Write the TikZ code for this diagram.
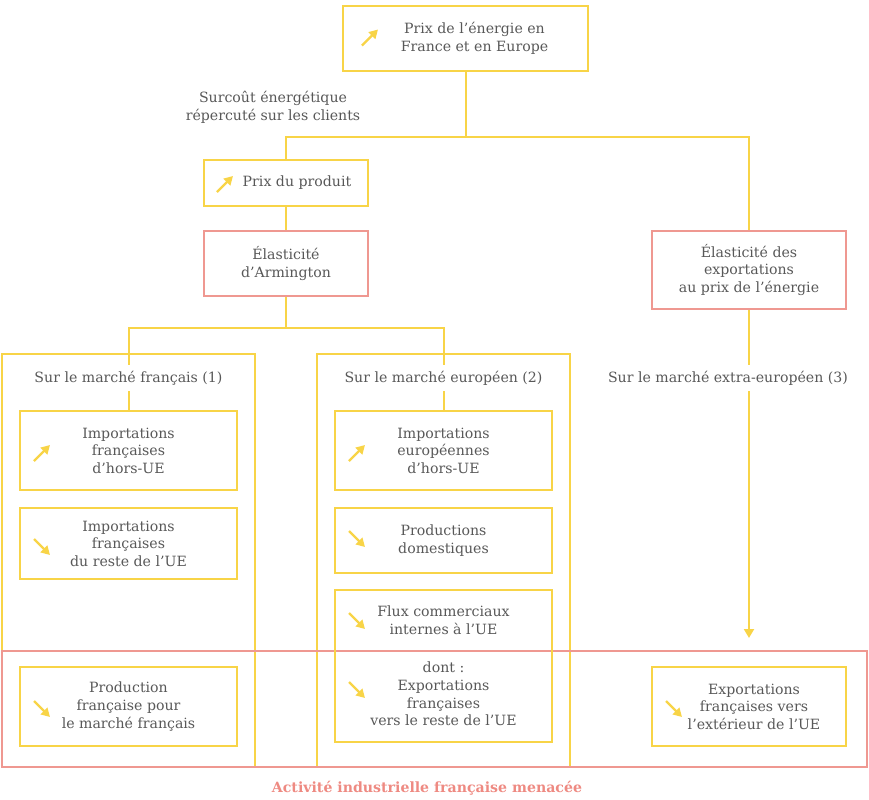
\documentclass[tikz,border=0pt]{standalone}
\usepackage{fontspec}
\setmainfont{DejaVu Serif}
\usetikzlibrary{arrows.meta}
\definecolor{ylw}{HTML}{F8D447}
\definecolor{rd}{HTML}{EF9891}
\definecolor{rdtxt}{HTML}{EE8A82}
\definecolor{txt}{HTML}{585858}
\newcommand\PX{*0.75pt}
\tikzset{
  base/.style={font=\fontsize{10.6}{13.2}\selectfont, text=txt, align=center},
  ybox/.style={base, draw=ylw, line width=1.5pt, inner sep=0pt},
  rbox/.style={base, draw=rd, line width=1.5pt, inner sep=0pt},
  lbl/.style={base, inner sep=0pt, minimum height=26\PX},
  conn/.style={draw=ylw, line width=1.5pt},
  icon/.style={draw=ylw, line width=1.7pt, -{Triangle[length=6.5pt,width=7pt]}},
}
\newcommand\iconup[1]{\draw[icon] (#1) ++(-8,8) -- ++(16,-16);}
\newcommand\icondn[1]{\draw[icon] (#1) ++(-8,-8) -- ++(16,16);}
\begin{document}
\begin{tikzpicture}[x=0.75pt,y=-0.75pt]
\useasboundingbox (0,0) rectangle (869,800);
% big containers
\node[ybox, minimum width=253\PX, minimum height=413\PX] (big1) at (128.5,560.5) {};
\node[ybox, minimum width=253\PX, minimum height=413\PX] (big2) at (443.5,560.5) {};
\node[rbox, minimum width=865\PX, minimum height=116\PX] (red) at (434.5,709) {};
% top chain
\node[ybox, minimum width=245\PX, minimum height=65\PX] (top) at (465.5,38.5) {\hspace*{13.5pt}Prix de l’énergie en\\\hspace*{13.5pt}France et en Europe};
\iconup{370,37.5}
\node[ybox, minimum width=164\PX, minimum height=46\PX] (prix) at (286,183) {\hspace*{16.5pt}Prix du produit};
\iconup{225,184}
\node[rbox, minimum width=164\PX, minimum height=65\PX] (arm) at (286,263.5) {Élasticité\\d’Armington};
\node[rbox, minimum width=194\PX, minimum height=78\PX] (elas) at (749,270) {Élasticité des\\exportations\\au prix de l’énergie};
\node[base] (surc) at (273,107.5) {Surcoût énergétique\\répercuté sur les clients};
\coordinate (j1) at (465.5,137);
\draw[conn] (top.south) -- (j1);
\draw[conn] (j1) -| (prix.north);
\draw[conn] (j1) -| (elas.north);
\draw[conn] (prix.south) -- (arm.north);
% market labels
\node[lbl] (lab1) at (128.5,378) {Sur le marché français (1)};
\node[lbl] (lab2) at (443.5,378) {Sur le marché européen (2)};
\node[lbl] (lab3) at (728,378) {Sur le marché extra-européen (3)};
\coordinate (j2) at (286,328);
\draw[conn] (arm.south) -- (j2);
\draw[conn] (j2) -| (lab1.north);
\draw[conn] (j2) -| (lab2.north);
% left column
\node[ybox, minimum width=217\PX, minimum height=79\PX] (l1) at (128.5,450.5) {Importations\\françaises\\d’hors-UE};
\iconup{42,453}
\node[ybox, minimum width=217\PX, minimum height=71\PX] (l2) at (128.5,543.5) {Importations\\françaises\\du reste de l’UE};
\icondn{42,547}
\node[ybox, minimum width=217\PX, minimum height=79\PX] (l3) at (128.5,706.5) {Production\\française pour\\le marché français};
\icondn{42,709}
% middle column
\node[ybox, minimum width=217\PX, minimum height=79\PX] (m1) at (443.5,450.5) {Importations\\européennes\\d’hors-UE};
\iconup{357,453}
\node[ybox, minimum width=217\PX, minimum height=65\PX] (m2) at (443.5,540.5) {Productions\\domestiques};
\icondn{357,539}
\node[ybox, minimum width=217\PX, minimum height=152\PX] (m3) at (443.5,666) {Flux commerciaux\\internes à l’UE\\[15.75pt]dont :\\Exportations\\françaises\\vers le reste de l’UE};
\icondn{357,621}
\icondn{357,690}
% right column
\node[ybox, minimum width=194\PX, minimum height=79\PX] (r3) at (749,706.5) {\hspace*{7.5pt}Exportations\\\hspace*{7.5pt}françaises vers\\\hspace*{7.5pt}l’extérieur de l’UE};
\icondn{674,709}
\draw[conn] (lab1.south) -- (l1.north);
\draw[conn] (lab2.south) -- (m1.north);
\coordinate (arr) at (749,638);
\draw[conn] (elas.south) -- (lab3.north -| elas.south);
\draw[conn, -{Triangle[length=6.75pt,width=7.5pt]}] (lab3.south -| elas.south) -- (arr);
\node[base, font=\fontsize{10.6}{13.2}\selectfont\bfseries, text=rdtxt] (title) at (427,788) {Activité industrielle française menacée};
\end{tikzpicture}
\end{document}
